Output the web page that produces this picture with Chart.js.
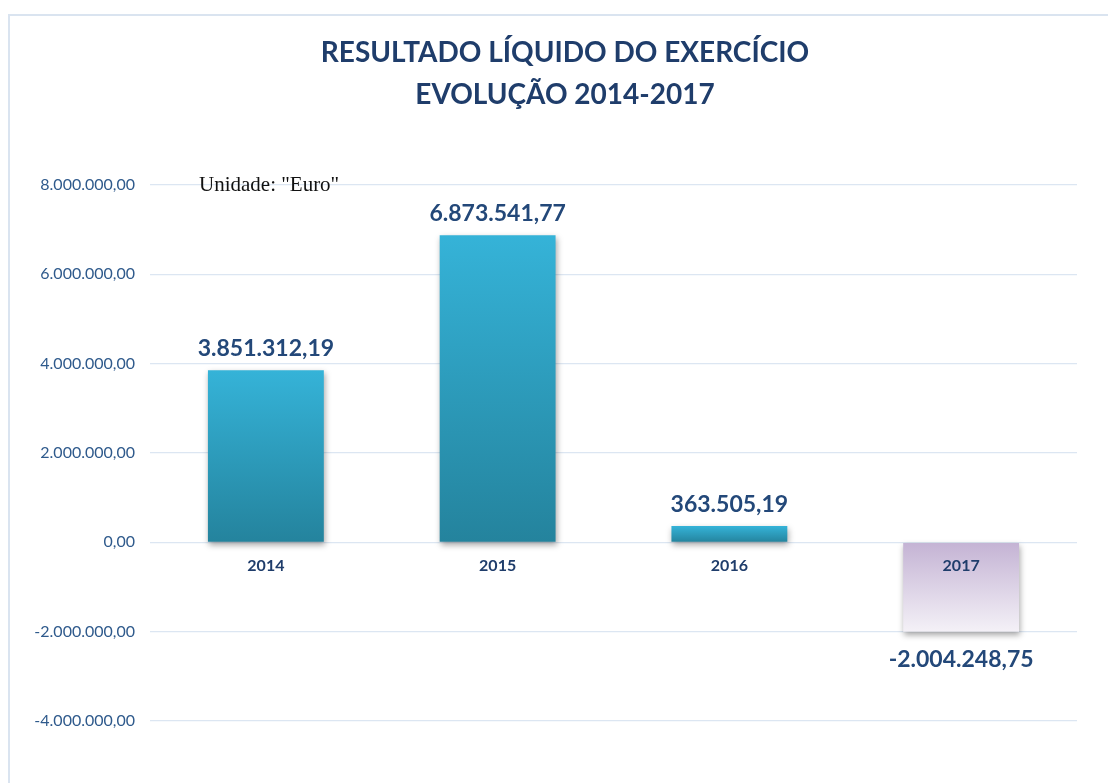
<!DOCTYPE html>
<html>
<head>
<meta charset="utf-8">
<script src="https://cdn.jsdelivr.net/npm/chart.js@4.4.0/dist/chart.umd.min.js"></script>
<style>
  html, body { margin: 0; padding: 0; background: #ffffff; }
  #wrap { position: relative; width: 1108px; height: 783px; }
  #frame { position: absolute; left: 8px; top: 14px; width: 1110px; height: 780px;
           border-left: 2px solid #DAE4F0; border-top: 2px solid #DAE4F0; box-sizing: border-box; pointer-events: none; }
</style>
</head>
<body>
<div id="wrap">
  <canvas id="c" width="1108" height="783"></canvas>
  <div id="frame"></div>
</div>
<script>
const categories = ["2014", "2015", "2016", "2017"];
const values = [3851312.19, 6873541.77, 363505.19, -2004248.75];
const valueLabels = ["3.851.312,19", "6.873.541,77", "363.505,19", "-2.004.248,75"];
const titleLines = ["RESULTADO LÍQUIDO DO EXERCÍCIO", "EVOLUÇÃO 2014-2017"];
const unitNote = 'Unidade: "Euro"';
const yMin = -4000000, yMax = 8000000, yStep = 2000000;

function fmtEuro(v) {
  const neg = v < 0;
  const s = Math.abs(v).toFixed(2).split(".");
  const intPart = s[0].replace(/\B(?=(\d{3})+(?!\d))/g, ".");
  return (neg ? "-" : "") + intPart + "," + s[1];
}

function barFill(ctx) {
  const chart = ctx.chart;
  const area = chart.chartArea;
  const v = ctx.raw;
  if (!area) return v >= 0 ? "#2FA6C9" : "#D8CDE3";
  const y = chart.scales.y;
  const y0 = y.getPixelForValue(0), y1 = y.getPixelForValue(v);
  const g = chart.ctx.createLinearGradient(0, Math.min(y0, y1), 0, Math.max(y0, y1) + 0.01);
  if (v >= 0) {
    g.addColorStop(0, "#35B3D8");
    g.addColorStop(1, "#24839D");
  } else {
    g.addColorStop(0, "#C4B3D4");
    g.addColorStop(1, "#F4F1F7");
  }
  return g;
}

const shadowPlugin = {
  id: "barShadow",
  beforeDatasetsDraw(chart) {
    const c = chart.ctx;
    c.save();
    c.shadowColor = "rgba(0,0,0,0.35)";
    c.shadowBlur = 6;
    c.shadowOffsetX = 1;
    c.shadowOffsetY = 3;
  },
  afterDatasetsDraw(chart) {
    chart.ctx.restore();
  }
};

const labelPlugin = {
  id: "valueLabels",
  afterDatasetsDraw(chart) {
    const c = chart.ctx;
    const meta = chart.getDatasetMeta(0);
    c.save();
    c.font = "bold 23px Lato";
    c.fillStyle = "#234879";
    c.textAlign = "center";
    meta.data.forEach((bar, i) => {
      const v = values[i];
      if (v >= 0) {
        c.textBaseline = "bottom";
        c.fillText(valueLabels[i], bar.x, bar.y - 10);
      } else {
        c.textBaseline = "top";
        c.fillText(valueLabels[i], bar.x, bar.y + 16);
      }
    });
    c.font = "21px 'Liberation Serif'";
    c.fillStyle = "#111111";
    c.textAlign = "left";
    c.textBaseline = "middle";
    c.fillText(unitNote, 199, chart.scales.y.getPixelForValue(yMax));
    c.restore();
  },
  afterDraw(chart) {
    const c = chart.ctx;
    c.save();
    c.font = "bold 28px Lato";
    c.fillStyle = "#1F3D6B";
    c.textAlign = "center";
    c.textBaseline = "middle";
    c.fillText(titleLines[0], 565, 53);
    c.fillText(titleLines[1], 565, 95);
    c.restore();
  }
};

new Chart(document.getElementById("c"), {
  type: "bar",
  data: {
    labels: categories,
    datasets: [{
      data: values,
      backgroundColor: barFill,
      borderWidth: 0,
      categoryPercentage: 1.0,
      barPercentage: 0.5
    }]
  },
  options: {
    responsive: false,
    animation: false,
    layout: { padding: { left: 0, right: 31, top: 185, bottom: 62 } },
    plugins: {
      legend: { display: false },
      tooltip: { enabled: false },
      title: { display: false }
    },
    scales: {
      x: {
        position: { y: 0 },
        grid: { display: false },
        border: { display: false },
        ticks: {
          z: 1,
          color: "#1F3D6B",
          font: { family: "Lato", size: 16, weight: "bold" },
          padding: 6
        }
      },
      y: {
        min: yMin,
        max: yMax,
        afterFit(axis) { axis.width = 150; },
        grid: { color: "#DCE6F2", lineWidth: 1.2, drawTicks: false },
        border: { display: false },
        ticks: {
          stepSize: yStep,
          padding: 15,
          color: "#2F5A8C",
          font: { family: "Lato", size: 16 },
          callback: (v) => fmtEuro(v)
        }
      }
    }
  },
  plugins: [shadowPlugin, labelPlugin]
});
</script>
</body>
</html>
